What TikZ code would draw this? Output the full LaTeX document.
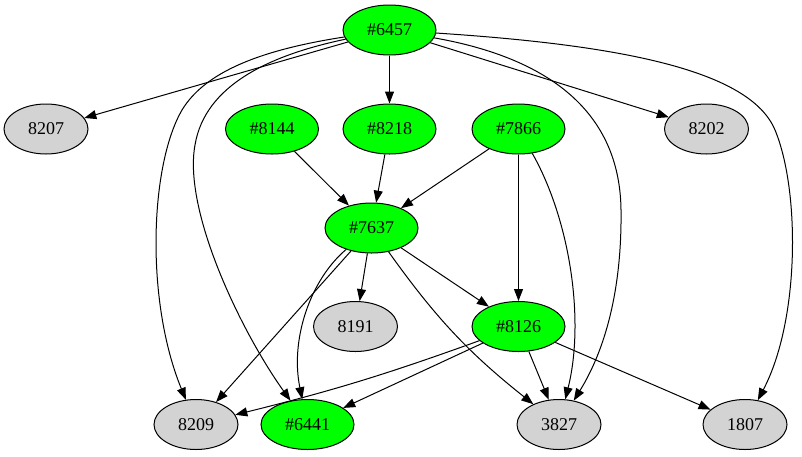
\documentclass[tikz,border=0pt]{standalone}
\usepackage{fontspec}
\setmainfont{Liberation Serif}
\usetikzlibrary{shapes.geometric,arrows.meta}
\definecolor{gnode}{HTML}{00FF00}
\definecolor{gynode}{HTML}{D3D3D3}
\begin{document}
\begin{tikzpicture}[x=1pt,y=1pt,
  base/.style={ellipse,draw=black,line width=1pt,inner sep=0pt,minimum height=50pt,font=\fontsize{18}{20}\selectfont},
  gn/.style={base,fill=gnode,minimum width=93pt},
  gy/.style={base,fill=gynode,minimum width=84pt},
  edge/.style={draw=black,line width=1pt,-{Triangle[length=12pt,width=9pt]}}]
\useasboundingbox (0,0) rectangle (802,-456);
\node[gn] (n6457) at (389.5,-30) {\#6457};
\node[gy] (n8207) at (46,-129) {8207};
\node[gn] (n8144) at (272,-129) {\#8144};
\node[gn] (n8218) at (389.5,-129) {\#8218};
\node[gn] (n7866) at (518.5,-129) {\#7866};
\node[gy] (n8202) at (706.5,-129) {8202};
\node[gn] (n7637) at (371.5,-228) {\#7637};
\node[gy] (n8191) at (355.5,-326.5) {8191};
\node[gn] (n8126) at (518.5,-326.5) {\#8126};
\node[gy] (n8209) at (196,-424.5) {8209};
\node[gn] (n6441) at (307.5,-424.5) {\#6441};
\node[gy] (n3827) at (559,-424.5) {3827};
\node[gy] (n1807) at (745,-424.5) {1807};

\path[edge] (n6457) -- (n8207);
\path[edge] (n6457) -- (n8218);
\path[edge] (n6457) -- (n8202);
\path[edge] (n6457) .. controls (260,-50) and (205,-72) .. (182,-110) .. controls (150,-165) and (145,-300) .. (n8209);
\path[edge] (n6457) .. controls (270,-55) and (205,-85) .. (195,-145) .. controls (183,-210) and (240,-330) .. (n6441);
\path[edge] (n6457) .. controls (560,-60) and (620,-120) .. (621,-210) .. controls (622,-290) and (605,-350) .. (n3827);
\path[edge] (n6457) .. controls (620,-45) and (750,-70) .. (775,-130) .. controls (800,-190) and (800,-320) .. (n1807);
\path[edge] (n8144) -- (n7637);
\path[edge] (n8218) -- (n7637);
\path[edge] (n7866) -- (n7637);
\path[edge] (n7866) -- (n8126);
\path[edge] (n7866) .. controls (570,-220) and (585,-320) .. (n3827);
\path[edge] (n7637) -- (n8191);
\path[edge] (n7637) -- (n8126);
\path[edge] (n7637) -- (n8209);
\path[edge] (n7637) .. controls (310,-280) and (290,-340) .. (n6441);
\path[edge] (n7637) to[bend right=8] (n3827);
\path[edge] (n8126) to[bend left=3] (n8209);
\path[edge] (n8126) -- (n6441);
\path[edge] (n8126) -- (n3827);
\path[edge] (n8126) -- (n1807);
\end{tikzpicture}
\end{document}
